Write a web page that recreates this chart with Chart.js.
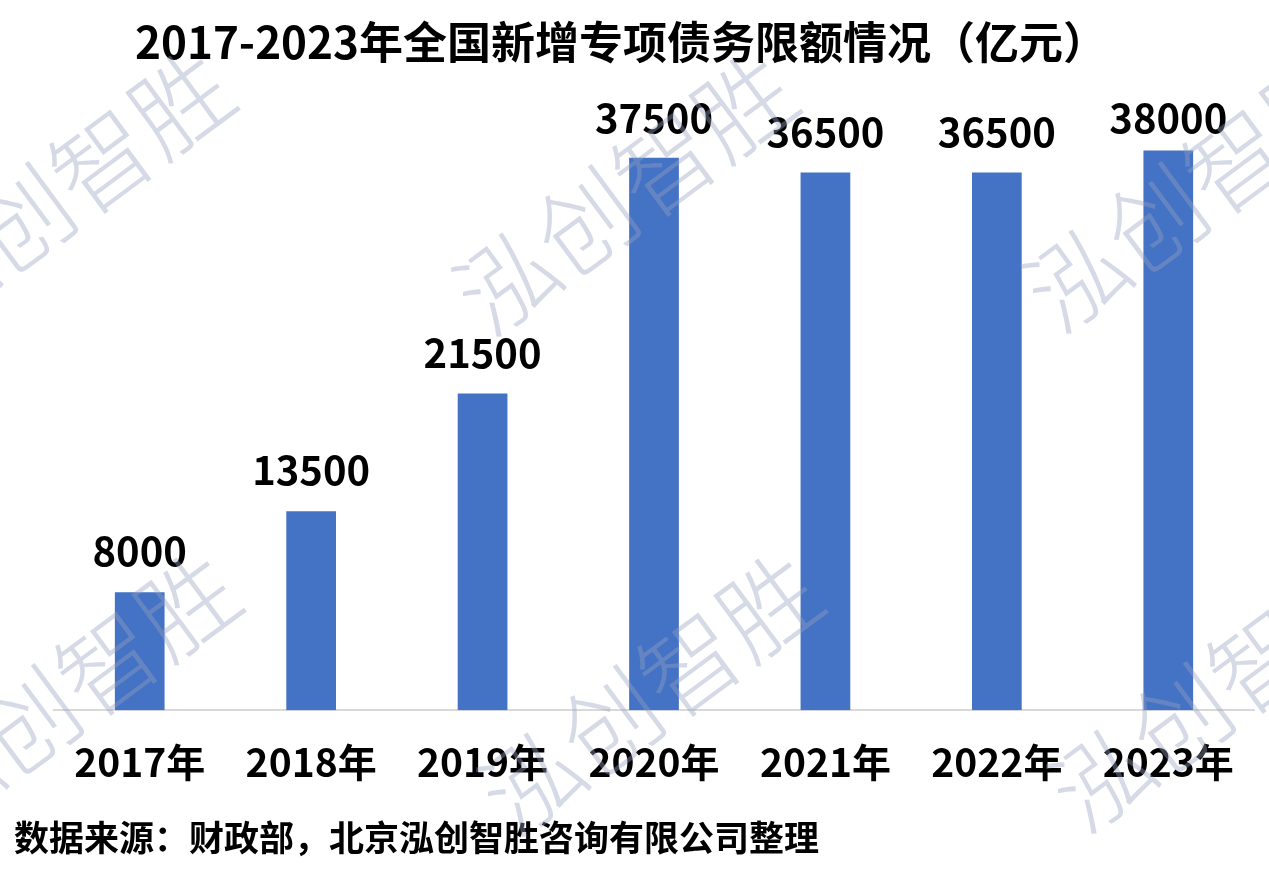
<!DOCTYPE html>
<html>
<head>
<meta charset="utf-8">
<script src="https://cdn.jsdelivr.net/npm/chart.js@4.4.1/dist/chart.umd.min.js"></script>
<style>
html,body{margin:0;padding:0;background:#fff;}
#wrap{width:1269px;height:872px;position:relative;}
</style>
</head>
<body>
<div id="wrap"><canvas id="c" width="1269" height="872"></canvas></div>
<script>
const categories = ['2017年','2018年','2019年','2020年','2021年','2022年','2023年'];
const values = [8000, 13500, 21500, 37500, 36500, 36500, 38000];
const titleText = '2017-2023年全国新增专项债务限额情况（亿元）';
const sourceText = '数据来源：财政部，北京泓创智胜咨询有限公司整理';
const watermarkText = '泓创智胜';

const FONT = '"Noto Sans CJK SC", "Noto Sans", sans-serif';

const decorPlugin = {
  id: 'decor',
  afterDatasetsDraw(chart) {
    const ctx = chart.ctx;
    const area = chart.chartArea;
    const meta = chart.getDatasetMeta(0);
    ctx.save();
    ctx.fillStyle = '#000';
    ctx.font = 'bold 40px ' + FONT;
    ctx.textAlign = 'center';
    ctx.textBaseline = 'alphabetic';
    meta.data.forEach((bar, i) => {
      const y = Math.max(bar.y - 26, area.top + 12);
      ctx.fillText(String(values[i]), bar.x, y);
    });
    ctx.restore();
  },
  afterDraw(chart) {
    const ctx = chart.ctx;
    ctx.save();
    // title
    ctx.fillStyle = '#000';
    ctx.font = 'bold 44px ' + FONT;
    ctx.textAlign = 'center';
    ctx.textBaseline = 'middle';
    ctx.fillText(titleText, 621, 42);
    // source
    ctx.font = 'bold 35px ' + FONT;
    ctx.textAlign = 'left';
    ctx.fillText(sourceText, 14, 838);
    // watermarks
    const spots = [[62,190],[625,193],[1195,190],[68,692],[650,693],[1220,690]];
    ctx.font = '300 98px ' + FONT;
    ctx.fillStyle = 'rgba(150,162,192,0.4)';
    ctx.textAlign = 'center';
    ctx.textBaseline = 'middle';
    spots.forEach(([x,y]) => {
      ctx.save();
      ctx.translate(x, y);
      ctx.rotate(-36.5 * Math.PI / 180);
      ctx.fillText(watermarkText, 0, 0);
      ctx.restore();
    });
    ctx.restore();
  }
};

new Chart(document.getElementById('c'), {
  type: 'bar',
  data: {
    labels: categories,
    datasets: [{
      data: values,
      backgroundColor: '#4472C4',
      borderWidth: 0,
      categoryPercentage: 1.0,
      barPercentage: 0.29
    }]
  },
  options: {
    responsive: false,
    animation: false,
    devicePixelRatio: 1,
    layout: { padding: { left: 54, right: 15, top: 121, bottom: 57 } },
    plugins: {
      legend: { display: false },
      title: { display: false },
      tooltip: { enabled: false }
    },
    scales: {
      x: {
        grid: { display: false, drawTicks: false },
        border: { display: true, color: '#d9d9d9', width: 2 },
        ticks: {
          color: '#000',
          padding: 29,
          font: { family: FONT, size: 39, weight: 'bold' },
          maxRotation: 0,
          autoSkip: false
        }
      },
      y: {
        display: false,
        min: 0,
        max: 40000
      }
    }
  },
  plugins: [decorPlugin]
});
</script>
</body>
</html>
